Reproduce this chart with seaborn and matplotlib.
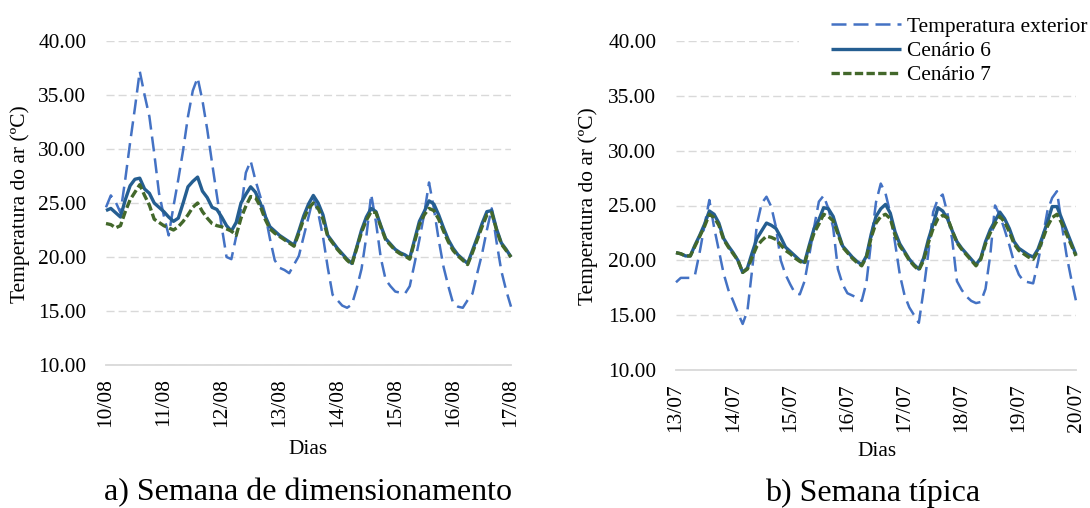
import numpy as np
import pandas as pd
import matplotlib
matplotlib.use("Agg")
import matplotlib.pyplot as plt
from matplotlib.patches import Rectangle
import seaborn as sns

# ---------------- data (2-hourly readings over one week) ----------------
hours = np.arange(0, 169, 2)

left_days = ["10/08", "11/08", "12/08", "13/08", "14/08", "15/08", "16/08", "17/08"]
right_days = ["13/07", "14/07", "15/07", "16/07", "17/07", "18/07", "19/07", "20/07"]

series_names = ["Temperatura exterior", "Cenário 6", "Cenário 7"]

left_ext = [24.6, 25.7, 25.1, 24.1, 27.2, 30.6, 33.8, 37.2, 35.0, 33.0, 29.6, 25.9,
            23.8, 22.0, 24.7, 27.2, 29.9, 33.0, 35.4, 36.6, 34.5, 31.8, 28.7, 25.7,
            22.8, 20.0, 19.8, 21.9, 24.4, 27.8, 28.9, 27.1, 25.6, 24.0, 21.7, 19.7,
            19.0, 18.8, 18.5, 19.3, 20.1, 21.9, 23.7, 25.5, 24.1, 21.9, 19.0, 16.5,
            16.0, 15.5, 15.3, 15.6, 17.1, 18.9, 21.9, 25.8, 23.2, 19.9, 17.9, 17.3,
            16.8, 16.7, 16.6, 17.3, 19.4, 21.6, 24.0, 26.9, 24.5, 21.6, 19.1, 17.3,
            15.7, 15.4, 15.3, 16.0, 16.6, 18.5, 20.3, 22.5, 24.5, 21.4, 18.7, 16.9,
            15.4]
left_c6 = [24.3, 24.5, 24.1, 23.7, 25.3, 26.6, 27.2, 27.3, 26.3, 25.9, 25.0, 24.6,
           24.2, 23.7, 23.3, 23.6, 25.0, 26.5, 27.0, 27.4, 26.1, 25.5, 24.6, 24.4,
           23.7, 22.9, 22.4, 23.2, 25.0, 25.8, 26.5, 26.0, 25.0, 23.8, 22.8, 22.4,
           22.0, 21.7, 21.4, 21.1, 22.4, 23.8, 24.9, 25.7, 25.0, 23.9, 22.0, 21.4,
           20.8, 20.3, 19.8, 19.4, 20.9, 22.5, 23.7, 24.5, 24.2, 22.9, 21.7, 21.2,
           20.7, 20.4, 20.2, 19.9, 21.6, 23.3, 24.2, 25.2, 24.9, 23.9, 22.7, 21.6,
           20.8, 20.2, 19.8, 19.4, 20.6, 21.8, 23.1, 24.2, 24.3, 22.6, 21.3, 20.7,
           20.0]
left_c7 = [23.1, 23.0, 22.7, 22.9, 24.2, 25.3, 26.0, 26.7, 25.7, 24.8, 23.5, 23.2,
           22.9, 22.7, 22.5, 22.8, 23.3, 23.9, 24.6, 25.0, 24.2, 23.6, 23.1, 22.9,
           22.8, 22.6, 22.4, 22.0, 23.6, 24.7, 25.6, 25.5, 24.7, 23.5, 22.6, 22.2,
           21.9, 21.6, 21.3, 21.0, 22.2, 23.5, 24.5, 25.0, 24.5, 23.5, 21.9, 21.3,
           20.7, 20.2, 19.7, 19.3, 20.8, 22.3, 23.4, 24.2, 24.1, 22.8, 21.6, 21.1,
           20.6, 20.3, 20.1, 19.8, 21.4, 23.0, 23.9, 24.5, 24.3, 23.5, 22.4, 21.4,
           20.6, 20.1, 19.7, 19.3, 20.4, 21.6, 22.8, 23.9, 24.1, 22.5, 21.2, 20.6,
           20.0]

right_ext = [18.0, 18.4, 18.4, 18.4, 18.7, 20.8, 23.2, 25.5, 23.0, 20.9, 18.8, 17.3,
             16.3, 15.2, 14.2, 15.4, 19.2, 23.3, 25.2, 25.8, 24.9, 23.0, 20.0, 18.7,
             17.8, 17.0, 16.9, 18.1, 20.5, 23.0, 25.35, 25.9, 24.7, 23.0, 19.2, 17.8,
             17.0, 16.8, 16.6, 16.3, 18.0, 21.8, 25.3, 27.0, 26.1, 24.3, 21.6, 18.7,
             16.8, 15.7, 15.0, 14.3, 17.3, 20.7, 24.4, 25.6, 26.0, 24.3, 21.9, 18.1,
             17.3, 16.7, 16.3, 16.1, 16.2, 17.4, 20.5, 25.0, 24.1, 22.8, 21.4, 19.8,
             18.7, 18.1, 18.0, 17.9, 19.8, 22.1, 24.5, 25.7, 26.3, 23.3, 20.5, 18.3,
             16.3]
right_c6 = [20.7, 20.6, 20.4, 20.4, 21.4, 22.3, 23.3, 24.5, 24.2, 23.4, 22.0, 21.3,
            20.7, 20.0, 18.9, 19.3, 20.7, 22.0, 22.7, 23.4, 23.2, 22.9, 22.1, 21.2,
            20.8, 20.4, 20.0, 19.8, 21.4, 22.9, 23.7, 24.8, 24.7, 24.0, 22.6, 21.3,
            20.8, 20.3, 19.9, 19.6, 20.4, 22.4, 24.0, 24.7, 25.1, 24.3, 22.6, 21.5,
            20.8, 20.1, 19.6, 19.2, 20.2, 21.9, 23.3, 24.8, 24.5, 23.8, 22.7, 21.7,
            21.1, 20.6, 20.1, 19.6, 20.2, 21.7, 22.8, 23.6, 24.4, 23.8, 22.9, 21.7,
            21.1, 20.8, 20.5, 20.3, 21.0, 22.2, 23.5, 24.9, 24.9, 23.8, 22.7, 21.6,
            20.5]
right_c7 = [20.7, 20.6, 20.4, 20.4, 21.3, 22.2, 23.1, 24.2, 23.9, 23.2, 21.9, 21.2,
            20.6, 20.0, 18.9, 19.2, 20.3, 21.3, 21.8, 22.2, 22.1, 21.9, 21.4, 20.9,
            20.6, 20.2, 19.9, 19.7, 21.2, 22.5, 23.3, 24.2, 24.0, 23.6, 22.4, 21.2,
            20.7, 20.2, 19.8, 19.5, 20.3, 22.1, 23.4, 24.0, 24.2, 23.8, 22.3, 21.3,
            20.7, 20.0, 19.5, 19.1, 20.0, 21.6, 22.9, 23.8, 24.1, 23.9, 22.7, 21.6,
            21.0, 20.5, 20.0, 19.5, 20.1, 21.5, 22.5, 23.3, 24.0, 23.5, 22.6, 21.5,
            20.9, 20.6, 20.3, 20.1, 20.8, 21.9, 23.1, 23.9, 24.2, 23.4, 22.4, 21.4,
            20.4]

y_ticks = [10, 15, 20, 25, 30, 35, 40]

# ---------------- styling ----------------
sns.set_theme(style="white")
plt.rcParams["font.family"] = ["Liberation Serif", "DejaVu Serif"]
plt.rcParams["text.color"] = "black"

W, H = 1090, 508
FS = 15.4
colors = {"Temperatura exterior": "#4472C4", "Cenário 6": "#255E91", "Cenário 7": "#43682B"}
styles = {
    "Temperatura exterior": dict(lw=1.8, linestyle=(0, (6.0, 2.8))),
    "Cenário 6": dict(lw=2.4, linestyle="-"),
    "Cenário 7": dict(lw=2.4, linestyle=(0, (2.5, 1.0))),
}

fig = plt.figure(figsize=(W / 100, H / 100), dpi=100)


def px_axes(x0, x1, ytop, ybot):
    return fig.add_axes([x0 / W, 1 - ybot / H, (x1 - x0) / W, (ybot - ytop) / H])


def draw_panel(ax, ext, c6, c7, labels):
    df = pd.DataFrame({
        "Dia": np.tile(hours / 24.0, 3),
        "Temp": np.concatenate([ext, c6, c7]),
        "Série": np.repeat(series_names, len(hours)),
    })
    for name in series_names:
        sub = df[df["Série"] == name]
        sns.lineplot(data=sub, x="Dia", y="Temp", ax=ax, color=colors[name],
                     label=name, clip_on=False, solid_capstyle="butt",
                     dash_capstyle="butt", **styles[name])
    ax.set_xlim(0, 7)
    ax.set_ylim(10, 40)
    ax.set_yticks(y_ticks)
    ax.set_yticklabels([f"{v:.2f}" for v in y_ticks], fontsize=FS, color="black")
    ax.set_xticks(range(len(labels)))
    ax.set_xticklabels(labels, rotation=90, fontsize=FS, color="black")
    ax.tick_params(axis="y", length=0, pad=14)
    ax.tick_params(axis="x", length=0, pad=9.4)
    ax.set_axisbelow(True)
    ax.yaxis.grid(True, color="#D9D9D9", linestyle=(0, (5.8, 2.9)), linewidth=1.0)
    ax.xaxis.grid(False)
    for s in ["left", "right", "top"]:
        ax.spines[s].set_visible(False)
    ax.spines["bottom"].set_color("#D9D9D9")
    ax.spines["bottom"].set_linewidth(1.3)
    ax.set_xlabel("")
    ax.set_ylabel("")
    leg = ax.get_legend()
    if leg is not None:
        leg.remove()


axL = px_axes(106, 511, 41, 365)
axR = px_axes(676, 1076, 41, 370)
draw_panel(axL, left_ext, left_c6, left_c7, left_days)
draw_panel(axR, right_ext, right_c6, right_c7, right_days)

# axis titles
fig.text(20 / W, 1 - 204 / H, "Temperatura do ar (ºC)", rotation=90, ha="center", va="center", fontsize=FS)
fig.text(588 / W, 1 - 206 / H, "Temperatura do ar (ºC)", rotation=90, ha="center", va="center", fontsize=FS)
fig.text(308 / W, 1 - 450 / H, "Dias", ha="center", va="center", fontsize=FS)
fig.text(877 / W, 1 - 452 / H, "Dias", ha="center", va="center", fontsize=FS)
fig.text(307.5 / W, 1 - 493 / H, "a) Semana de dimensionamento", ha="center", va="center", fontsize=23)
fig.text(872.6 / W, 1 - 493 / H, "b) Semana típica", ha="center", va="center", fontsize=23)

# white legend area (covers the top gridline like the original legend box)
fig.patches.append(Rectangle((799 / W, 1 - 88 / H), 291 / W, 88 / H,
                             transform=fig.transFigure, facecolor="white",
                             edgecolor="none", zorder=5))

handles, labs = axR.get_legend_handles_labels()
leg = fig.legend(handles, labs, loc="upper left", bbox_to_anchor=(831 / W, 1 - 17 / H),
                 frameon=False, fontsize=FS, handlelength=3.26, handletextpad=0.31,
                 labelspacing=0.19, borderpad=0, borderaxespad=0)
leg.set_zorder(6)

fig.savefig("out.png", dpi=100)
